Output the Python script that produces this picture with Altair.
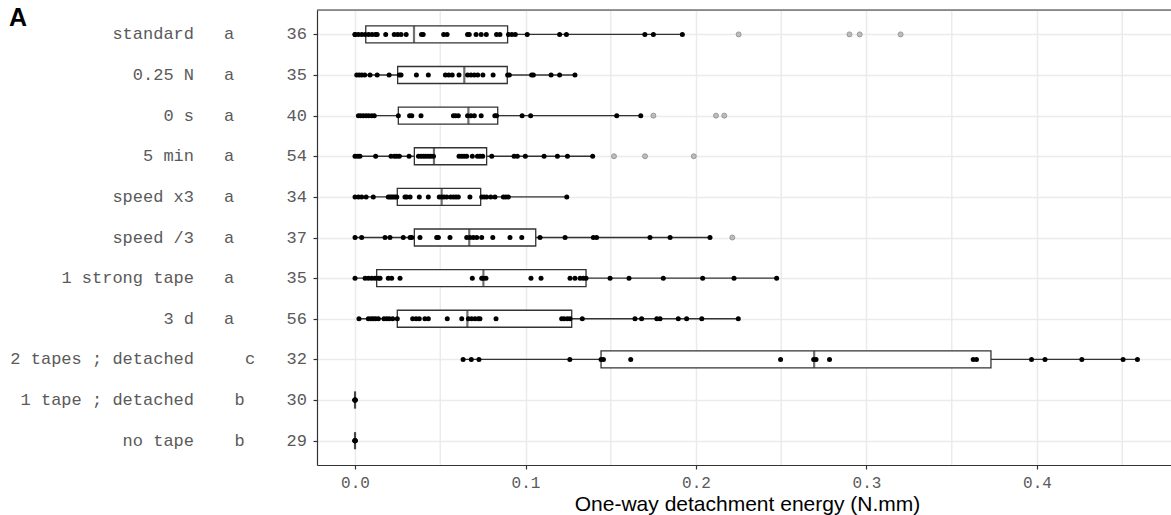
import altair as alt
import pandas as pd

# ---------------- data ----------------
groups = ["standard", "0.25 N", "0 s", "5 min", "speed x3", "speed /3",
          "1 strong tape", "3 d", "2 tapes ; detached", "1 tape ; detached", "no tape"]
counts = ["36", "35", "40", "54", "34", "37", "35", "56", "32", "30", "29"]
sig_letters = ["a", "a", "a", "a", "a", "a", "a", "a", "c", "b", "b"]

# box statistics (lower whisker, Q1, median, Q3, upper whisker)
whisk_lo = [0.0, 0.001, 0.002, 0.0, 0.0, 0.0, 0.0, 0.0023, 0.0634, 0.0, 0.0]
q1 = [0.0063, 0.025, 0.0254, 0.0348, 0.0248, 0.0348, 0.0127, 0.0248, 0.1443, 0.0, 0.0]
median = [0.0346, 0.0641, 0.0665, 0.0463, 0.0508, 0.067, 0.0753, 0.0659, 0.2693, 0.0, 0.0]
q3 = [0.0895, 0.0893, 0.0837, 0.0772, 0.0737, 0.106, 0.1355, 0.1271, 0.373, 0.0, 0.0]
whisk_hi = [0.192, 0.129, 0.1676, 0.1394, 0.1242, 0.2082, 0.2473, 0.2248, 0.4589, 0.0, 0.0]

pts_standard = [0.000, 0.000, 0.002, 0.004, 0.006, 0.008, 0.010, 0.012, 0.013, 0.018, 0.023,
                0.025, 0.027, 0.030, 0.039, 0.040, 0.052, 0.054, 0.066, 0.067, 0.071, 0.074,
                0.077, 0.083, 0.085, 0.090, 0.092, 0.094, 0.101, 0.120, 0.124, 0.170, 0.175, 0.192]
pts_025N = [0.001, 0.0025, 0.004, 0.0057, 0.0088, 0.013, 0.020, 0.026, 0.027, 0.036, 0.043,
            0.053, 0.055, 0.057, 0.061, 0.066, 0.068, 0.070, 0.072, 0.075, 0.081, 0.0895,
            0.0905, 0.1036, 0.1046, 0.115, 0.120, 0.129]
pts_0s = [0.002, 0.0033, 0.0049, 0.0065, 0.008, 0.0098, 0.0113, 0.0254, 0.032, 0.0333, 0.0387,
          0.0577, 0.059, 0.0606, 0.066, 0.068, 0.070, 0.074, 0.082, 0.083, 0.098, 0.103,
          0.1535, 0.1676]
pts_5min = [0.000, 0.0016, 0.0029, 0.0121, 0.0211, 0.0231, 0.0245, 0.026, 0.0317, 0.0372,
            0.0387, 0.0401, 0.0415, 0.043, 0.0444, 0.046, 0.061, 0.0626, 0.064, 0.0655,
            0.0688, 0.0718, 0.0733, 0.0749, 0.0802, 0.0933, 0.0952, 0.0999, 0.1109, 0.1187,
            0.1246, 0.1394]
pts_speedx3 = [0.0, 0.002, 0.0039, 0.0065, 0.0107, 0.0195, 0.0205, 0.0215, 0.0225, 0.0235,
               0.0245, 0.0293, 0.0303, 0.0323, 0.0377, 0.043, 0.0494, 0.0508, 0.0522, 0.0538,
               0.0561, 0.0577, 0.0592, 0.0606, 0.0674, 0.0743, 0.0757, 0.0772, 0.0796, 0.0821,
               0.087, 0.0884, 0.0899, 0.1242]
pts_speed3 = [0.0, 0.0039, 0.0176, 0.0205, 0.0283, 0.0323, 0.0333, 0.0381, 0.0479, 0.0489,
              0.0557, 0.0655, 0.0674, 0.0694, 0.0714, 0.0743, 0.0808, 0.0909, 0.0978, 0.1085,
              0.1232, 0.1398, 0.1417, 0.173, 0.1848, 0.2082]
pts_1strong = [0.0, 0.0059, 0.0078, 0.0098, 0.0117, 0.0137, 0.0147, 0.0195, 0.0215, 0.0264,
               0.0688, 0.0743, 0.0752, 0.0768, 0.1032, 0.1091, 0.1261, 0.1290, 0.1320, 0.1339,
               0.1355, 0.1496, 0.1607, 0.1808, 0.2039, 0.2223, 0.2473]
pts_3d = [0.0023, 0.0078, 0.0094, 0.0107, 0.0121, 0.0137, 0.017, 0.0186, 0.0201, 0.0221,
          0.0248, 0.0338, 0.0358, 0.0377, 0.041, 0.043, 0.0541, 0.0626, 0.0665, 0.0684,
          0.0704, 0.0723, 0.0733, 0.0827, 0.1212, 0.1226, 0.1245, 0.1261, 0.1333, 0.1642,
          0.1681, 0.177, 0.1789, 0.1896, 0.1945, 0.2034, 0.2248]
pts_2tapes = [0.0634, 0.0682, 0.0727, 0.126, 0.1443, 0.1457, 0.1617, 0.2496, 0.269, 0.2704,
              0.2783, 0.3626, 0.3645, 0.3968, 0.4047, 0.4263, 0.4505, 0.4589]
pts_1tape = [0.0, 0.0, 0.0, 0.0, 0.0]
pts_notape = [0.0, 0.0, 0.0, 0.0, 0.0]

out_standard = [0.225, 0.290, 0.296, 0.320]
out_0s = [0.175, 0.2117, 0.2166]
out_5min = [0.1519, 0.1701, 0.1987]
out_speed3 = [0.2213]

minor_breaks = [0.05, 0.15, 0.25, 0.35, 0.45]
major_breaks = [0.0, 0.1, 0.2, 0.3, 0.4]

# ---------------- tables ----------------
pts_by_group = [pts_standard, pts_025N, pts_0s, pts_5min, pts_speedx3, pts_speed3,
                pts_1strong, pts_3d, pts_2tapes, pts_1tape, pts_notape]
out_by_group = {"standard": out_standard, "0 s": out_0s, "5 min": out_5min,
                "speed /3": out_speed3}

stats = pd.DataFrame({"group": groups, "n": counts, "sig": sig_letters,
                      "lo": whisk_lo, "q1": q1, "med": median, "q3": q3, "hi": whisk_hi})
points = pd.DataFrame([{"group": g, "v": v} for g, vals in zip(groups, pts_by_group) for v in vals])
outliers = pd.DataFrame([{"group": g, "v": v} for g, vals in out_by_group.items() for v in vals])
minor = pd.DataFrame({"b": minor_breaks})

W, H = 854, 455
MONO = "Liberation Mono"
LABEL_GREY = "#5a5a5a"
DARK = "#333333"

xscale = alt.Scale(domain=[-0.0223, 0.4786], nice=False, zero=False)
yscale = alt.Scale(type="point", padding=0.6)

X_AXIS = alt.Axis(values=major_breaks, format=".1f", labelFont=MONO, labelFontSize=16,
                  labelColor=LABEL_GREY, labelBaseline="alphabetic", labelPadding=18,
                  tickColor=DARK, tickSize=4, tickWidth=1.2, domainColor=DARK, domainWidth=1.2,
                  grid=True, gridColor="#ebebeb", gridWidth=1.5,
                  title="One-way detachment energy (N.mm)", titleFont="Liberation Sans",
                  titleFontSize=21, titleFontWeight="normal", titleColor="#000000",
                  titleX=430, titleY=45, titleBaseline="alphabetic", titleAlign="center")
Y_AXIS = alt.Axis(labels=False, title=None, tickColor=DARK, tickSize=4, tickWidth=1.2,
                  domainColor=DARK, domainWidth=1.2, grid=True, gridColor="#ebebeb",
                  gridWidth=1.5)

Y = alt.Y("group:N", sort=groups, scale=yscale, axis=Y_AXIS)

base_stats = alt.Chart(stats)

minor_grid = alt.Chart(minor).mark_rule(color="#ebebeb", strokeWidth=1.5).encode(
    x=alt.X("b:Q", scale=xscale, axis=X_AXIS))

whiskers = base_stats.mark_rule(color=DARK, strokeWidth=1.3).encode(
    x=alt.X("lo:Q", scale=xscale, axis=X_AXIS), x2="hi:Q", y=Y)

boxes = base_stats.mark_bar(size=17, fill="white", stroke=DARK, strokeWidth=1.3).encode(
    x=alt.X("q1:Q", scale=xscale, axis=X_AXIS), x2="q3:Q", y=Y)

medians = base_stats.mark_tick(orient="vertical", size=17, thickness=2.2, color=DARK).encode(
    x=alt.X("med:Q", scale=xscale, axis=X_AXIS), y=Y)

out_layer = alt.Chart(outliers).mark_circle(size=25, fill="#bdbdbd", stroke="#8a8a8a",
                                            strokeWidth=0.8, opacity=1).encode(
    x=alt.X("v:Q", scale=xscale, axis=X_AXIS), y=Y)

pt_layer = alt.Chart(points).mark_circle(size=25, color="#000000", opacity=1).encode(
    x=alt.X("v:Q", scale=xscale, axis=X_AXIS), y=Y)

text_style = dict(baseline="middle", font=MONO, fontSize=17, color=LABEL_GREY)

names = base_stats.mark_text(align="right", **text_style).encode(
    y=Y, x=alt.value(-123), text="group:N")

# significance letters sit one character further right for each later letter
letter_layers = [
    base_stats.transform_filter(alt.datum.sig == letter)
    .mark_text(align="center", **text_style)
    .encode(y=Y, x=alt.value(-88 + 10.5 * k), text="sig:N")
    for k, letter in enumerate(["a", "b", "c"])
]

ns = base_stats.mark_text(align="right", **text_style).encode(
    y=Y, x=alt.value(-10), text="n:N")

top_border = alt.Chart(pd.DataFrame({"k": [0]})).mark_rule(color=DARK, strokeWidth=1.2).encode(
    x=alt.value(0), x2=alt.value(W), y=alt.value(0))

panel_tag = alt.Chart(pd.DataFrame({"t": ["A"]})).mark_text(
    align="left", baseline="alphabetic", font="Liberation Sans", fontSize=25,
    fontWeight="bold", color="#000000").encode(
    x=alt.value(-308), y=alt.value(16), text="t:N")

chart = alt.layer(
    minor_grid, whiskers, boxes, medians, out_layer, pt_layer,
    names, *letter_layers, ns, top_border, panel_tag
).properties(
    width=W, height=H,
    padding={"left": 317, "top": 10, "right": 0, "bottom": 50},
    autosize="none",
).configure_view(stroke=None).configure(background="white")

chart.save("out.html", embed_options={"renderer": "svg", "actions": False})
